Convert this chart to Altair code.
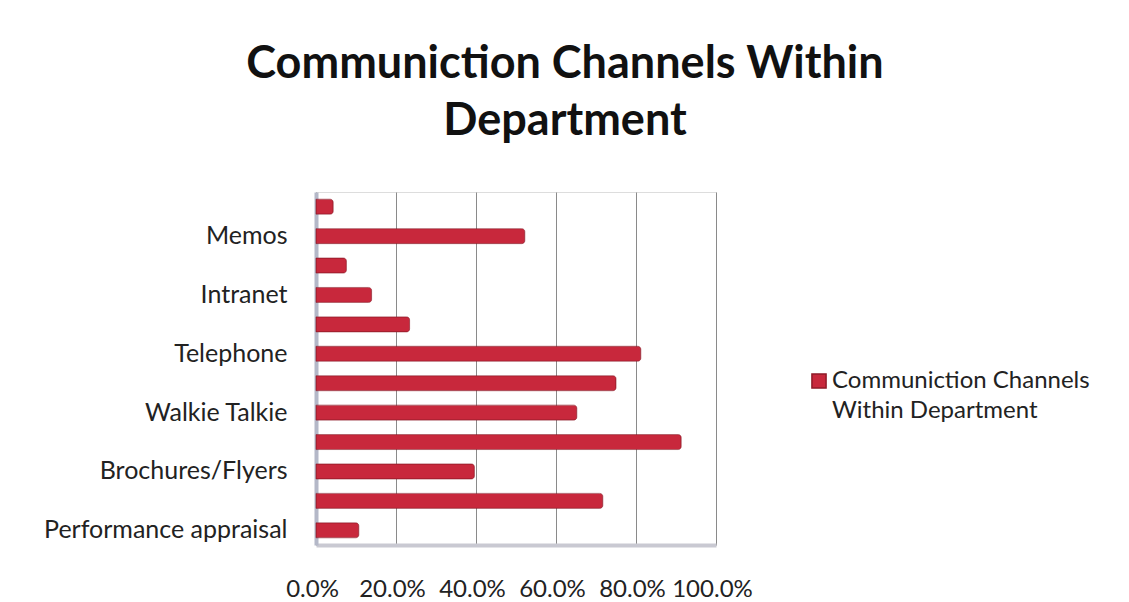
import json
import altair as alt
import pandas as pd

# Bars listed from top to bottom; only every other category name is printed on the chart
rank = list(range(1, 13))
shown_labels = ["", "Memos", "", "Intranet", "", "Telephone", "",
                "Walkie Talkie", "", "Brochures/Flyers", "", "Performance appraisal"]
values = [0.043, 0.522, 0.076, 0.139, 0.234, 0.812, 0.750,
          0.652, 0.913, 0.396, 0.717, 0.107]
series_name = "Communiction Channels Within Department"
legend_lines = ["Communiction Channels", "Within Department"]

df = pd.DataFrame({"rank": rank, "value": values, "series": series_name})

label_expr = json.dumps(shown_labels) + "[datum.value - 1]"

FONT = "Lato"
RED = "#C8283C"

chart = alt.Chart(df).mark_bar(
    color=RED, stroke="#8f1b29", strokeWidth=0.6, cornerRadiusEnd=3, height=15
).encode(
    y=alt.Y("rank:O", sort=rank, title=None,
            axis=alt.Axis(labelExpr=label_expr, labelFont=FONT, labelFontSize=25,
                          labelColor="#222222", labelPadding=29, ticks=False,
                          domainColor="#b4b8c8", domainWidth=4,
                          labelLimit=400)),
    x=alt.X("value:Q", title=None,
            scale=alt.Scale(domain=[0, 1]),
            axis=alt.Axis(format=".1%", values=[0, 0.2, 0.4, 0.6, 0.8, 1.0],
                          labelFont=FONT, labelFontSize=24, labelColor="#222222",
                          labelPadding=32, labelOffset=-4, ticks=False,
                          labelOverlap=False, labelBound=False, labelFlush=False,
                          grid=True, gridColor="#8a8a8a", gridWidth=1,
                          domainColor="#c9c9d2", domainWidth=4)),
    color=alt.Color("series:N",
                    scale=alt.Scale(range=[RED]),
                    legend=alt.Legend(title=None, orient="none", legendX=491, legendY=177,
                                      symbolType="square", symbolSize=200,
                                      labelFont=FONT, labelFontSize=24, labelColor="#222222",
                                      labelExpr=json.dumps(legend_lines),
                                      labelBaseline="middle", labelLimit=400,
                                      labelOffset=1)),
).properties(
    width=400,
    height=353,
    title=alt.TitleParams(
        text=["Communiction Channels Within", "Department"],
        font=FONT, fontSize=45, fontWeight="bold", color="#111111",
        lineHeight=57, anchor="middle", dx=49, offset=48,
    ),
    autosize=alt.AutoSizeParams(type="none"),
    padding={"left": 316, "top": 192, "right": 413, "bottom": 57},
).configure_view(stroke=None).configure(
    background="white",
    style={"guide-label": {"lineHeight": 30}},
)

chart.save("out.html", embed_options={"renderer": "svg", "actions": False})
